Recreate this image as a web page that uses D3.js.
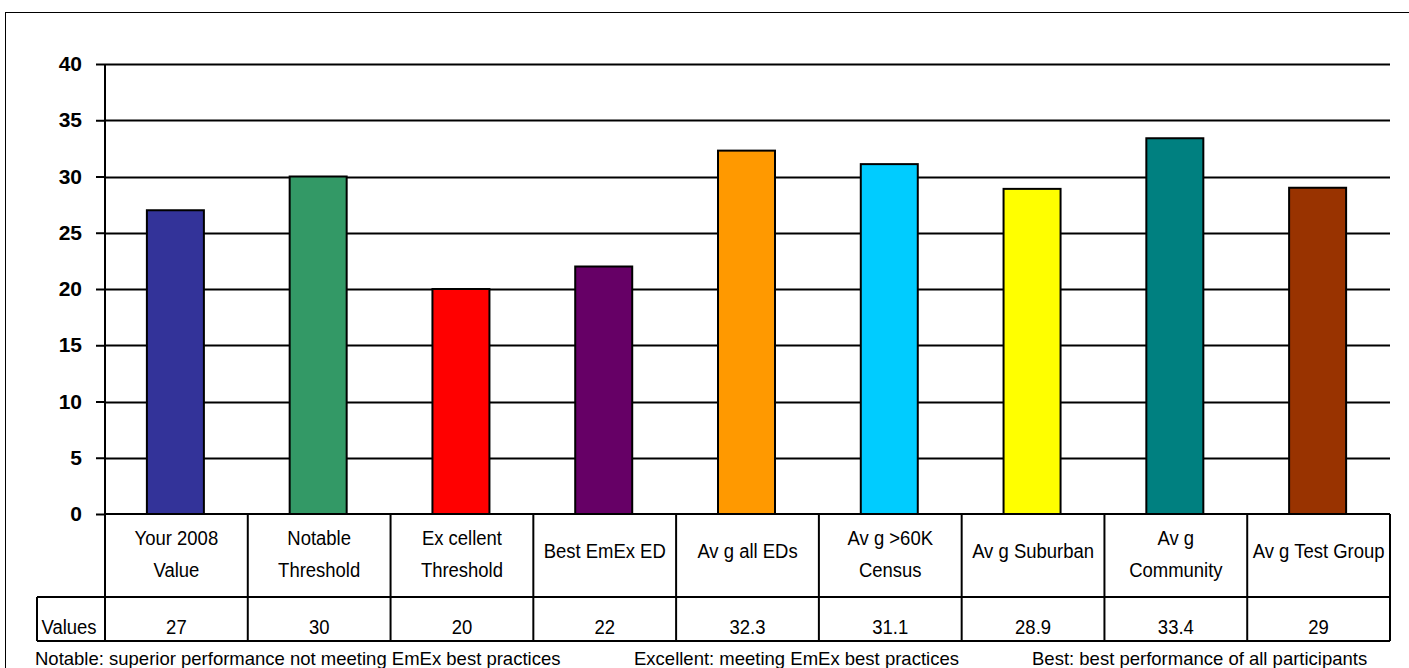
<!DOCTYPE html>
<html>
<head>
<meta charset="utf-8">
<script src="https://cdn.jsdelivr.net/npm/d3@7"></script>
<style>
  body { margin: 0; background: #fff; }
  svg { display: block; }
  .narrow { font-family: "Liberation Sans Narrow", "Arial Narrow", "Liberation Sans", Arial, sans-serif; }
</style>
</head>
<body>
<div id="chart"></div>
<script>
// data
const categories = [
  ["Your 2008", "Value"],
  ["Notable", "Threshold"],
  ["Ex cellent", "Threshold"],
  ["Best EmEx  ED"],
  ["Av g all EDs"],
  ["Av g >60K", "Census"],
  ["Av g Suburban"],
  ["Av g", "Community"],
  ["Av g Test Group"]
];
const values = [27, 30, 20, 22, 32.3, 31.1, 28.9, 33.4, 29];
const valueLabels = ["27", "30", "20", "22", "32.3", "31.1", "28.9", "33.4", "29"];
const colors = ["#333399", "#339966", "#FF0000", "#660066", "#FF9900", "#00CCFF", "#FFFF00", "#008080", "#993300"];
const yTicks = [0, 5, 10, 15, 20, 25, 30, 35, 40];
const notes = [
  "Notable: superior performance not meeting EmEx best practices",
  "Excellent: meeting EmEx best practices",
  "Best: best performance of all participants"
];

const width = 1409, height = 668;
const margin = {top: 64, left: 105, right: 19, bottom: 154};
const squeeze = 0.88;

const svg = d3.select("#chart").append("svg")
    .attr("width", width)
    .attr("height", height);

// outer frame
svg.append("rect")
    .attr("x", 5.5).attr("y", 12.5)
    .attr("width", width + 10).attr("height", height + 10)
    .attr("fill", "none").attr("stroke", "#000").attr("stroke-width", 1);

let x = d3.scaleBand()
    .domain(d3.range(categories.length))
    .range([margin.left, width - margin.right])
    .paddingInner(0).paddingOuter(0);

let y = d3.scaleLinear()
    .domain([0, 40])
    .range([height - margin.bottom, margin.top]);

// gridlines
svg.append("g")
    .selectAll("line")
    .data(yTicks.filter(d => d > 0))
    .enter().append("line")
    .attr("x1", margin.left).attr("x2", width - margin.right)
    .attr("y1", d => Math.round(y(d)) + 0.5).attr("y2", d => Math.round(y(d)) + 0.5)
    .attr("stroke", "#000").attr("stroke-width", 2);

// y axis
let yAxis = d3.axisLeft(y).tickValues(yTicks).tickSize(9).tickPadding(14);
let yAx = svg.append("g")
    .attr("transform", "translate(" + margin.left + ",0)")
    .call(yAxis);
yAx.select(".domain").attr("stroke-width", 2).attr("d", "M0," + y(40) + "V" + y(0));
yAx.selectAll(".tick line").attr("stroke-width", 2);
yAx.selectAll(".tick text")
    .style("font-family", "Liberation Sans, Arial, sans-serif")
    .style("font-size", "21px")
    .style("font-weight", "bold")
    .attr("fill", "#000");

// bars
const barW = 57;
svg.append("g")
    .selectAll("rect")
    .data(values)
    .enter().append("rect")
    .attr("x", (d, i) => x(i) + x.bandwidth() / 2 - barW / 2 - 1)
    .attr("y", d => y(d))
    .attr("width", barW)
    .attr("height", d => y(0) - y(d))
    .attr("fill", (d, i) => colors[i])
    .attr("stroke", "#000")
    .attr("stroke-width", 2);

// data table
const rowTop = y(0), rowMid = 597, rowBot = 641;
const table = svg.append("g").attr("stroke", "#000").attr("stroke-width", 2);
table.append("line").attr("x1", margin.left).attr("x2", width - margin.right).attr("y1", rowTop).attr("y2", rowTop);
table.append("line").attr("x1", 37).attr("x2", width - margin.right).attr("y1", rowMid).attr("y2", rowMid);
table.append("line").attr("x1", 37).attr("x2", width - margin.right).attr("y1", rowBot).attr("y2", rowBot);
table.append("line").attr("x1", 37).attr("x2", 37).attr("y1", rowMid).attr("y2", rowBot);
table.selectAll(".vline")
    .data(d3.range(categories.length + 1))
    .enter().append("line")
    .attr("class", "vline")
    .attr("x1", i => i < categories.length ? x(i) : x.range()[1])
    .attr("x2", i => i < categories.length ? x(i) : x.range()[1])
    .attr("y1", rowTop).attr("y2", rowBot);

// narrow text helper (squeezes horizontally)
function narrowText(g, t, cx, cy) {
    g.append("text")
        .attr("transform", "translate(" + cx + "," + cy + ") scale(" + squeeze + ",1)")
        .attr("text-anchor", "middle")
        .text(t);
}

// category labels
let catG = svg.append("g").attr("class", "narrow")
    .style("font-size", "21px").attr("fill", "#000");
categories.forEach((lines, i) => {
    let cx = x(i) + x.bandwidth() / 2;
    let startY = lines.length === 1 ? 558 : 545;
    lines.forEach((t, k) => narrowText(catG, t, cx, startY + k * 32));
});

// value row
let valG = svg.append("g").attr("class", "narrow")
    .style("font-size", "21px").attr("fill", "#000");
narrowText(valG, "Values", 69, 634);
valueLabels.forEach((t, i) => narrowText(valG, t, x(i) + x.bandwidth() / 2, 634));

// footnotes
const noteX = [35, 634, 1032];
svg.append("g")
    .selectAll("text")
    .data(notes)
    .enter().append("text")
    .attr("x", (d, i) => noteX[i])
    .attr("y", 665)
    .style("font-family", "Liberation Sans, Arial, sans-serif")
    .style("font-size", "18.5px")
    .attr("fill", "#000")
    .text(d => d);
</script>
</body>
</html>
